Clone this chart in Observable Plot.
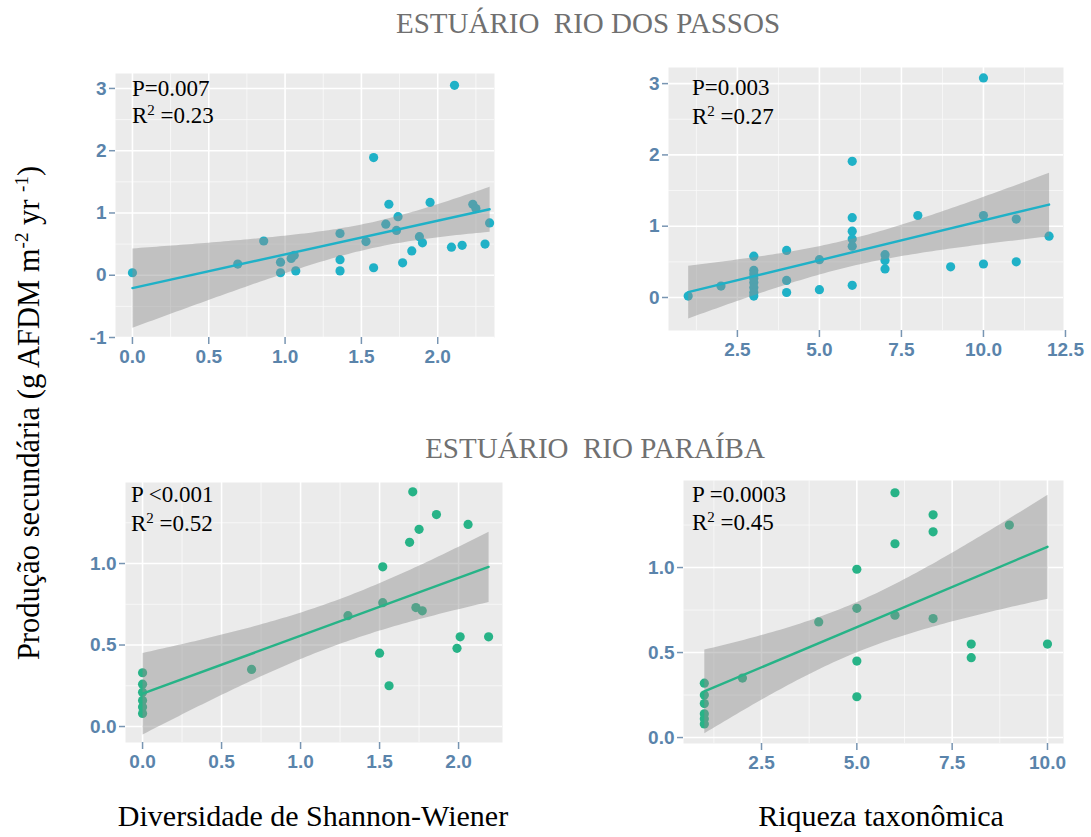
<!DOCTYPE html>
<html>
<head>
<meta charset="utf-8">
<script src="https://cdn.jsdelivr.net/npm/d3@7"></script>
<script src="https://cdn.jsdelivr.net/npm/@observablehq/plot@0.6"></script>
<style>
  html, body { margin: 0; padding: 0; background: #fff; }
  #wrap { position: relative; width: 1091px; height: 837px; background: #fff; overflow: hidden; }
  #wrap svg.plotpanel { position: absolute; overflow: visible; }
  #overlay { position: absolute; left: 0; top: 0; pointer-events: none; }
</style>
</head>
<body>
<div id="wrap"></div>
<script>
// ---------- DATA ----------
// Estuário Rio dos Passos — Shannon-Wiener diversity vs secondary production
const passosShannonX = [0.00, 0.69, 0.86, 0.97, 0.97, 1.04, 1.06, 1.07, 1.36, 1.36, 1.36, 1.53, 1.58, 1.58, 1.66, 1.68, 1.73, 1.74, 1.77, 1.83, 1.88, 1.90, 1.95, 2.09, 2.11, 2.16, 2.23, 2.25, 2.31, 2.34];
const passosShannonY = [0.04, 0.18, 0.55, 0.21, 0.04, 0.27, 0.32, 0.07, 0.67, 0.25, 0.07, 0.54, 1.89, 0.12, 0.82, 1.14, 0.72, 0.94, 0.20, 0.39, 0.62, 0.52, 1.17, 0.45, 3.05, 0.48, 1.14, 1.07, 0.50, 0.84];
// Estuário Rio dos Passos — taxonomic richness vs secondary production
const passosRiquezaX = [1, 2, 3, 3, 3, 3, 3, 3, 3, 3, 4, 4, 4, 5, 5, 6, 6, 6, 6, 6, 6, 7, 7, 7, 8, 9, 10, 10, 10, 11, 11, 12];
const passosRiquezaY = [0.02, 0.16, 0.58, 0.38, 0.33, 0.27, 0.21, 0.14, 0.07, 0.02, 0.66, 0.24, 0.07, 0.53, 0.11, 1.91, 1.12, 0.93, 0.82, 0.72, 0.17, 0.60, 0.52, 0.40, 1.15, 0.43, 3.08, 1.15, 0.47, 1.10, 0.50, 0.86];
// Estuário Rio Paraíba — Shannon-Wiener diversity
const paraibaShannonX = [0, 0, 0, 0, 0, 0, 0.69, 1.30, 1.50, 1.52, 1.52, 1.56, 1.69, 1.71, 1.75, 1.73, 1.77, 1.86, 1.99, 2.01, 2.06, 2.19];
const paraibaShannonY = [0.33, 0.26, 0.21, 0.16, 0.12, 0.08, 0.35, 0.68, 0.45, 0.98, 0.76, 0.25, 1.13, 1.44, 1.21, 0.73, 0.71, 1.30, 0.48, 0.55, 1.24, 0.55];
// Estuário Rio Paraíba — taxonomic richness
const paraibaRiquezaX = [1, 1, 1, 1, 1, 1, 2, 4, 5, 5, 5, 5, 6, 6, 6, 7, 7, 7, 8, 8, 9, 10];
const paraibaRiquezaY = [0.32, 0.25, 0.20, 0.14, 0.11, 0.08, 0.35, 0.68, 0.99, 0.76, 0.45, 0.24, 1.44, 1.14, 0.72, 1.31, 1.21, 0.70, 0.55, 0.47, 1.25, 0.55];

// Tick values and labels
const p1XTicks = [0, 0.5, 1, 1.5, 2];
const p1XLabels = ["0.0", "0.5", "1.0", "1.5", "2.0"];
const p1YTicks = [-1, 0, 1, 2, 3];
const p1YLabels = ["-1", "0", "1", "2", "3"];
const p2XTicks = [2.5, 5, 7.5, 10, 12.5];
const p2XLabels = ["2.5", "5.0", "7.5", "10.0", "12.5"];
const p2YTicks = [0, 1, 2, 3];
const p2YLabels = ["0", "1", "2", "3"];
const p3XTicks = [0, 0.5, 1, 1.5, 2];
const p3XLabels = ["0.0", "0.5", "1.0", "1.5", "2.0"];
const p3YTicks = [0, 0.5, 1];
const p3YLabels = ["0.0", "0.5", "1.0"];
const p4XTicks = [2.5, 5, 7.5, 10];
const p4XLabels = ["2.5", "5.0", "7.5", "10.0"];
const p4YTicks = [0, 0.5, 1];
const p4YLabels = ["0.0", "0.5", "1.0"];

// Minor grid values
const p1XMinor = [0.25, 0.75, 1.25, 1.75, 2.25];
const p1YMinor = [-0.5, 0.5, 1.5, 2.5];
const p2XMinor = [1.25, 3.75, 6.25, 8.75, 11.25];
const p2YMinor = [0.5, 1.5, 2.5];
const p3XMinor = [0.25, 0.75, 1.25, 1.75];
const p3YMinor = [0.25, 0.75, 1.25];
const p4XMinor = [1.25, 3.75, 6.25, 8.75];
const p4YMinor = [0.25, 0.75, 1.25];

// ---------- STYLE / LAYOUT ----------
const cyan = "#1fb1c7";
const green = "#27b387";
const tickColor = "#5a84ab";

const wrap = document.getElementById("wrap");

function zip(xs, ys) { return xs.map((x, i) => ({x, y: ys[i]})); }

function panel(cfg) {
  const [l, t, r, b] = cfg.frame;
  const mL = 60, mT = 10, mR = 45, mB = 45;
  const data = zip(cfg.xs, cfg.ys);
  const svg = Plot.plot({
    width: (r - l) + mL + mR,
    height: (b - t) + mT + mB,
    marginLeft: mL, marginTop: mT, marginRight: mR, marginBottom: mB,
    x: {domain: cfg.xdom, label: null},
    y: {domain: cfg.ydom, label: null},
    style: {background: "transparent", color: tickColor, fontFamily: "'Liberation Sans', Arial, sans-serif", overflow: "visible"},
    marks: [
      Plot.frame({fill: "#ebebeb", stroke: null}),
      Plot.gridX(cfg.xminor, {stroke: "#fafafa", strokeOpacity: 1, strokeWidth: 0.8}),
      Plot.gridY(cfg.yminor, {stroke: "#fafafa", strokeOpacity: 1, strokeWidth: 0.8}),
      Plot.gridX(cfg.xticks, {stroke: "#ffffff", strokeOpacity: 1, strokeWidth: 1.6}),
      Plot.gridY(cfg.yticks, {stroke: "#ffffff", strokeOpacity: 1, strokeWidth: 1.6}),
      Plot.dot(data, {x: "x", y: "y", r: 4.6, fill: cfg.color, stroke: null}),
      Plot.linearRegressionY(data, {x: "x", y: "y", stroke: cfg.color, strokeWidth: 2.4, fill: "#8f8f8f", fillOpacity: 0.45, ci: 0.95}),
      Plot.axisX(cfg.xticks, {label: null, tickFormat: d => cfg.xlabels[cfg.xticks.indexOf(d)], tickSize: 7, tickPadding: 5, fontSize: 19, fontWeight: "bold", stroke: "#7895b2", strokeWidth: 1.5}),
      Plot.axisY(cfg.yticks, {label: null, tickFormat: d => cfg.ylabels[cfg.yticks.indexOf(d)], tickSize: 6, tickPadding: 3, fontSize: 19, fontWeight: "bold", stroke: "#7895b2", strokeWidth: 1.5})
    ]
  });
  svg.classList.add("plotpanel");
  svg.style.left = (l - mL) + "px";
  svg.style.top = (t - mT) + "px";
  wrap.appendChild(svg);
}

panel({xs: passosShannonX, ys: passosShannonY, color: cyan, frame: [115, 73, 494, 337],
  xdom: [-0.111, 2.372], ydom: [-1.0, 3.24],
  xticks: p1XTicks, xlabels: p1XLabels, yticks: p1YTicks, ylabels: p1YLabels, xminor: p1XMinor, yminor: p1YMinor});
panel({xs: passosRiquezaX, ys: passosRiquezaY, color: cyan, frame: [668, 67, 1063, 330],
  xdom: [0.40, 12.44], ydom: [-0.463, 3.226],
  xticks: p2XTicks, xlabels: p2XLabels, yticks: p2YTicks, ylabels: p2YLabels, xminor: p2XMinor, yminor: p2YMinor});
panel({xs: paraibaShannonX, ys: paraibaShannonY, color: green, frame: [125, 482, 502, 742],
  xdom: [-0.108, 2.278], ydom: [-0.098, 1.497],
  xticks: p3XTicks, xlabels: p3XLabels, yticks: p3YTicks, ylabels: p3YLabels, xminor: p3XMinor, yminor: p3YMinor});
panel({xs: paraibaRiquezaX, ys: paraibaRiquezaY, color: green, frame: [683, 480, 1063, 743],
  xdom: [0.454, 10.42], ydom: [-0.035, 1.512],
  xticks: p4XTicks, xlabels: p4XLabels, yticks: p4YTicks, ylabels: p4YLabels, xminor: p4XMinor, yminor: p4YMinor});

// ---------- TEXT OVERLAY ----------
const titles = ["ESTUÁRIO  RIO DOS PASSOS", "ESTUÁRIO  RIO PARAÍBA"];
const xLabels = ["Diversidade de Shannon-Wiener", "Riqueza taxonômica"];
const pTexts = ["P=0.007", "P=0.003", "P <0.001", "P =0.0003"];
const r2Texts = ["=0.23", "=0.27", "=0.52", "=0.45"];

const NS = "http://www.w3.org/2000/svg";
const ov = document.createElementNS(NS, "svg");
ov.setAttribute("id", "overlay");
ov.setAttribute("width", 1091);
ov.setAttribute("height", 837);
ov.style.fontFamily = "'Liberation Serif', 'Times New Roman', serif";
wrap.appendChild(ov);

function txt(x, y, str, size, fill, anchor, extra) {
  const t = document.createElementNS(NS, "text");
  t.setAttribute("x", x); t.setAttribute("y", y);
  t.setAttribute("font-size", size);
  t.setAttribute("fill", fill);
  t.setAttribute("text-anchor", anchor || "start");
  t.setAttribute("xml:space", "preserve");
  t.style.whiteSpace = "pre";
  if (str !== null) t.textContent = str;
  if (extra) extra(t);
  ov.appendChild(t);
  return t;
}
function tspan(parent, str, opts) {
  const s = document.createElementNS(NS, "tspan");
  s.textContent = str;
  if (opts) for (const k in opts) s.setAttribute(k, opts[k]);
  parent.appendChild(s);
  return s;
}

txt(588, 33, titles[0], 29, "#707070", "middle");
txt(595, 458, titles[1], 29, "#707070", "middle");
txt(313, 826, xLabels[0], 30, "#000", "middle");
txt(881, 826, xLabels[1], 30, "#000", "middle");

const annPos = [[132, 96, 123], [692, 95, 124], [131, 502, 531], [692, 502, 530]];
annPos.forEach(([x, y1, y2], i) => {
  txt(x, y1, pTexts[i], 23, "#000", "start");
  const t = txt(x, y2, null, 23, "#000", "start");
  tspan(t, "R");
  tspan(t, "2", {"font-size": 15, dy: -8});
  tspan(t, " " + r2Texts[i], {dy: 8});
});

// rotated y-axis label
const yl = txt(0, 0, null, 30.5, "#000", "middle");
yl.setAttribute("transform", "translate(39,413) rotate(-90)");
tspan(yl, "Produção secundária (g AFDM m");
tspan(yl, "-2", {"font-size": 19, dy: -11});
tspan(yl, " yr ", {dy: 11});
tspan(yl, "-1", {"font-size": 19, dy: -11});
tspan(yl, ")", {dy: 11});
</script>
</body>
</html>
